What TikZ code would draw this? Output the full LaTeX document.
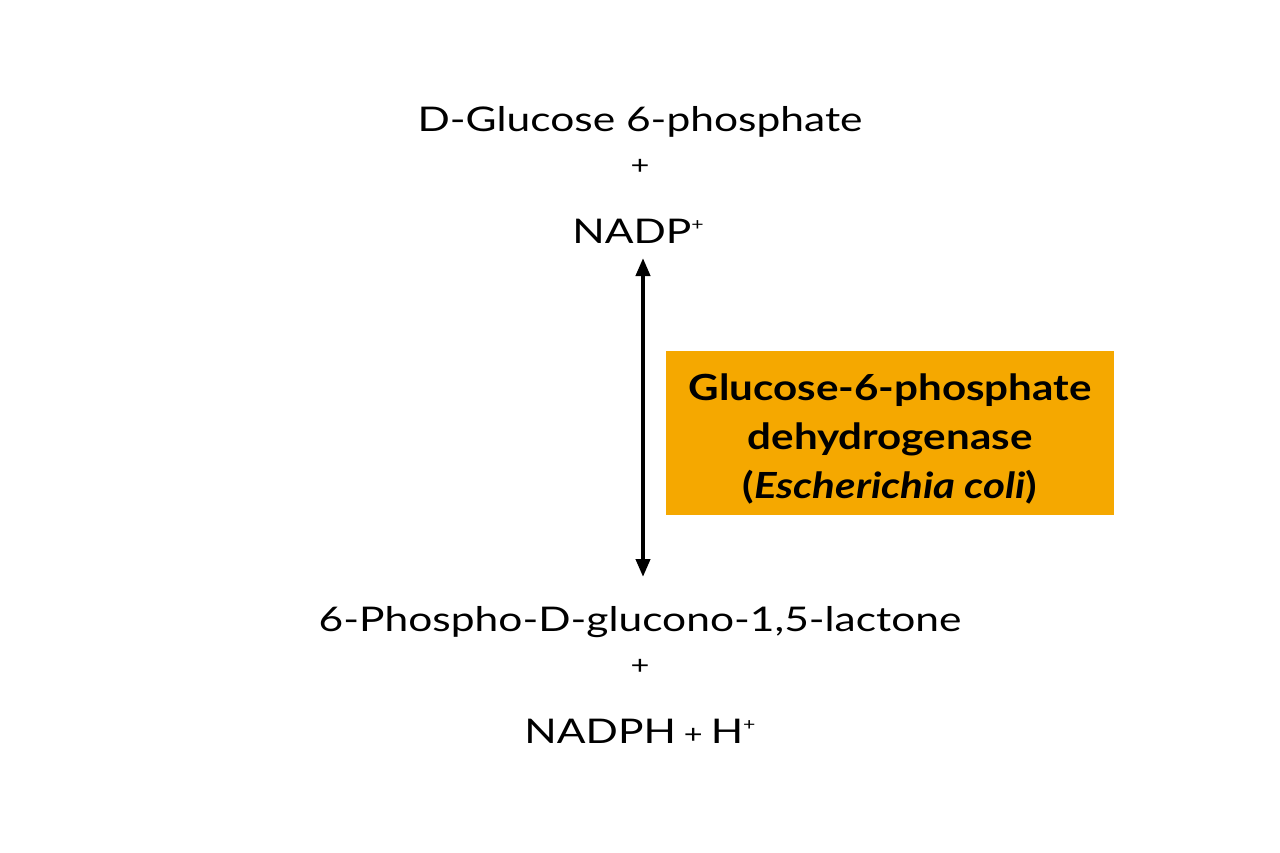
\documentclass[tikz,border=0pt]{standalone}
\usepackage{fontspec}
\setmainfont{Lato}
\newfontfamily\metfont{Lato}[FakeStretch=1.25]
\newfontfamily\enzfont{Lato}[FakeStretch=1.17]
\usetikzlibrary{arrows.meta}
\definecolor{enzyme}{HTML}{F5A800}
\newcommand{\supplus}{\raisebox{13pt}{\fontsize{17}{20}\selectfont +}}
\begin{document}
\begin{tikzpicture}[x=1pt,y=-1pt,
  metab/.style={font=\metfont\fontsize{34}{40}\selectfont, inner sep=0pt, anchor=center},
  plus/.style={font=\metfont\fontsize{26}{30}\selectfont, inner sep=0pt},
  enzbox/.style={fill=enzyme, minimum width=448pt, minimum height=164pt, inner sep=0pt},
  enztext/.style={align=center, inner sep=0pt, font=\enzfont\fontsize{36}{49}\selectfont\bfseries},
  rxn/.style={line width=4pt, {Triangle[length=18pt,width=14pt]}-{Triangle[length=18pt,width=14pt]}}]
\useasboundingbox (0,0) rectangle (1280,853);
\node[metab] (s1) at (640,122) {D-Glucose 6-phosphate};
\node[plus] (p1) at (640,167) {+};
\node[metab] (s2) at (638,231) {NADP\supplus};
\node[metab] (t1) at (640,622) {6-Phospho-D-glucono-1,5-lactone};
\node[plus] (p2) at (640,667) {+};
\node[metab] (t2) at (640,731) {NADPH\hspace{8pt}{\fontsize{26}{30}\selectfont+}\hspace{8pt}H\supplus};
\coordinate (top) at (643,258);
\coordinate (bot) at (643,577);
\draw[rxn] (bot) -- (top);
\node[enzbox] (enz) at (890,433) {};
\node[enztext] (enzlabel) at ([yshift=-6pt]enz.center) {Glucose-6-phosphate\\dehydrogenase\\(\textit{Escherichia coli})};
\end{tikzpicture}
\end{document}
